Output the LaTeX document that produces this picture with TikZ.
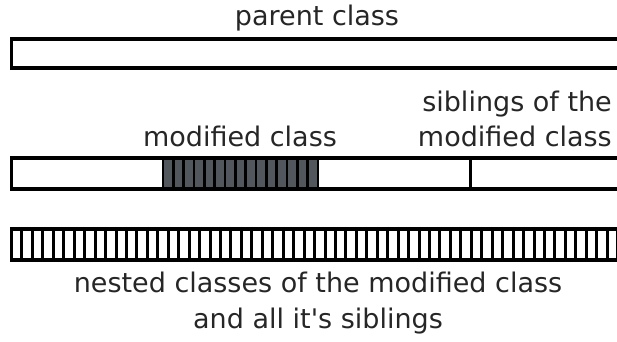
\documentclass[tikz,border=0pt]{standalone}
\usepackage{fontspec}
\setmainfont{DejaVu Sans}
\definecolor{darkfill}{HTML}{52575E}
\tikzset{
  bar/.style={draw=black, line width=3.2bp, fill=white},
  lbl/.style={inner sep=0pt, font=\fontsize{27bp}{32bp}\selectfont, text=black!85},
  sep/.style={draw=black, line width=3bp},
}
\begin{document}
\begin{tikzpicture}[x=1bp,y=-1bp]
\useasboundingbox (0,0) rectangle (617,341);
% parent class
\node[lbl, anchor=base] (parentlbl) at (317,25) {parent class};
\draw[bar] (11.5,39) rectangle (640,68);
% middle bar
\draw[bar] (11.5,158) rectangle (640,189);
\fill[darkfill] (163,158) rectangle (318,189);
\foreach \i in {0,...,15} {
  \draw[black, line width=2.8bp] ({163+\i*10.33},158) -- ({163+\i*10.33},189);
}
\draw[sep] (470,158) -- (470,189);
\draw[black, line width=3.2bp] (11.5,158) rectangle (640,189);
\node[lbl, anchor=base] (modlbl) at (240,146) {modified class};
\node[lbl, anchor=base east] (siblbl1) at (612,111) {siblings of the};
\node[lbl, anchor=base east] (siblbl2) at (612,146) {modified class};
% nested bar
\draw[bar] (11.5,229) rectangle (640,260);
\foreach \i in {1,...,60} {
  \draw[black, line width=3bp] ({11.5+\i*10.45},229) -- ({11.5+\i*10.45},260);
}
\node[lbl, anchor=base] (nestlbl1) at (318,292) {nested classes of the modified class};
\node[lbl, anchor=base] (nestlbl2) at (318,328) {and all it\textquotesingle s siblings};
\end{tikzpicture}
\end{document}
